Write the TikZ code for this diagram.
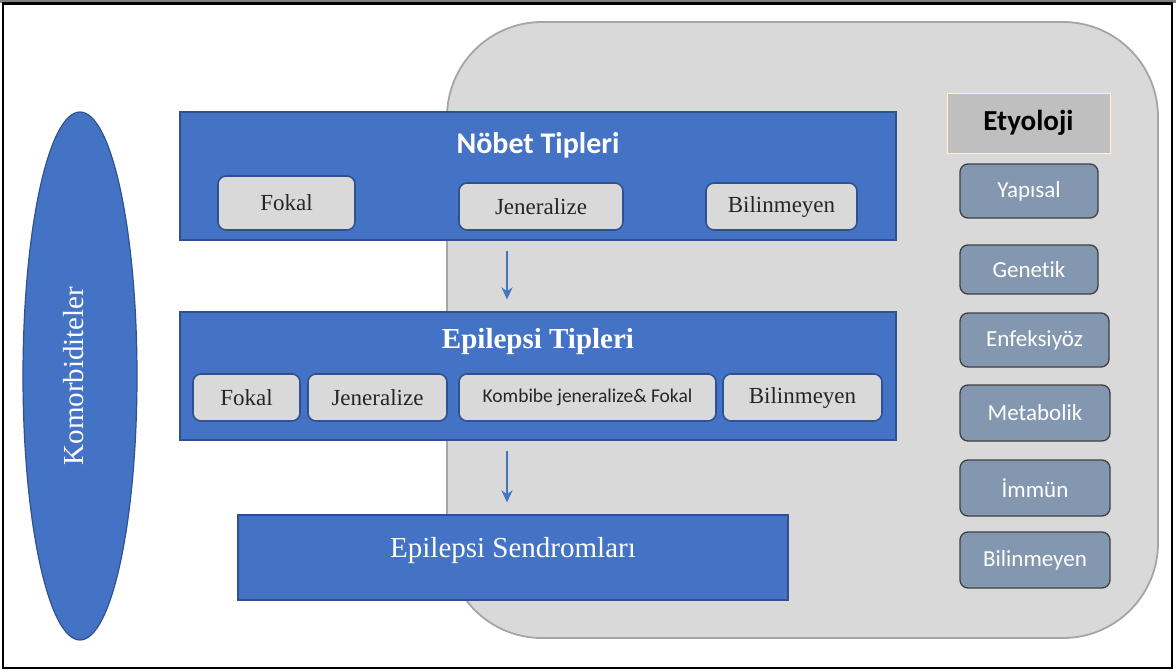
\documentclass[tikz,border=0pt]{standalone}
\usepackage{fontspec}
\setmainfont{Liberation Serif}
\newfontfamily\calibri[Ligatures=NoCommon]{Carlito}
\usepackage{tikz}
\usetikzlibrary{shapes.geometric, arrows.meta, positioning, calc}
\definecolor{EpiBlue}{HTML}{4472C4}
\definecolor{EpiNavy}{HTML}{2F528F}
\definecolor{EpiPanel}{HTML}{D9D9D9}
\definecolor{EpiPanelEdge}{HTML}{A5A5A5}
\definecolor{EpiHead}{HTML}{BFBFBF}
\definecolor{EpiHeadEdge}{HTML}{FFF2CC}
\definecolor{EpiSlate}{HTML}{8497B0}
\definecolor{EpiDark}{HTML}{404040}

\begin{document}
\begin{tikzpicture}[
  x=1pt, y=-1pt,
  panel/.style={draw=EpiPanelEdge, fill=EpiPanel, line width=1.8pt, rounded corners=95pt},
  block/.style={draw=EpiNavy, fill=EpiBlue, line width=1.2pt, inner sep=0pt},
  sub/.style={draw=EpiNavy, fill=EpiPanel, line width=1.6pt, rounded corners=8pt,
              inner sep=0pt, text=black!85, font=\fontsize{23}{26}\selectfont},
  ety/.style={draw=EpiDark, fill=EpiSlate, line width=1.3pt, rounded corners=8pt,
              inner sep=0pt, text=white, font=\calibri\fontsize{23}{26}\selectfont},
  arr/.style={-{Stealth[length=12pt, width=11pt]}, line width=2.6pt, color=EpiBlue},
  lbl/.style={text=white, inner sep=0pt},
]
\useasboundingbox (0,0) rectangle (1176,672);
%% Frame
\fill[black!50] (0,0) rectangle (1176,3);
\draw[line width=2.5pt] (3,3.5) rectangle (1172,668);
%% Etiology panel
\node[panel, minimum width=711pt, minimum height=616pt] (etypanel) at (802.5,330) {};
%% Comorbidities
\node[ellipse, draw=EpiNavy, fill=EpiBlue, line width=1.2pt, minimum width=114pt,
      minimum height=528pt, inner sep=0pt] (komor) at (80,376) {};
\node[lbl, rotate=90, font=\fontsize{29}{32}\selectfont] at ([xshift=-6pt]komor.center) {Komorbiditeler};
%% Seizure types
\node[block, minimum width=716pt, minimum height=128pt] (nobet) at (538,176) {};
\node[lbl, font=\calibri\bfseries\fontsize{30}{34}\selectfont] at ([yshift=-34pt]nobet.north) {Nöbet Tipleri};
\node[sub, minimum width=137pt, minimum height=54pt] (nfokal) at (286.5,203) {Fokal};
\node[sub, minimum width=164pt, minimum height=47pt] (njen) at (541,206.5) {Jeneralize};
\node[sub, minimum width=151pt, minimum height=47pt] (nbil) at (781.5,206.5) {Bilinmeyen};
%% Epilepsy types
\node[block, minimum width=716pt, minimum height=128pt] (epi) at (538,376) {};
\node[lbl, font=\bfseries\fontsize{29}{32}\selectfont] at ([yshift=-30pt]epi.north) {Epilepsi Tipleri};
\node[sub, minimum width=107pt, minimum height=47pt] (efokal) at (246.5,397.5) {Fokal};
\node[sub, minimum width=139pt, minimum height=47pt] (ejen) at (377.5,397.5) {Jeneralize};
\node[sub, minimum width=257pt, minimum height=47pt,
      font=\calibri\fontsize{19.5}{22}\selectfont] (ekomb) at (587.5,397.5) {Kombibe jeneralize\& Fokal};
\node[sub, minimum width=159pt, minimum height=47pt] (ebil) at (802.5,397.5) {Bilinmeyen};
%% Syndromes
\node[block, minimum width=550pt, minimum height=85pt] (send) at (513,557.5) {};
\node[lbl, font=\fontsize{29}{32}\selectfont] at ([yshift=7pt]send.center) {Epilepsi Sendromları};
%% Arrows
\coordinate (a1) at ([xshift=-31pt,yshift=-10pt]nobet.south);
\draw[arr] (a1) -- ([yshift=12pt]epi.north -| a1);
\coordinate (a2) at ([xshift=-31pt,yshift=-10pt]epi.south);
\draw[arr] (a2) -- ([yshift=12pt]send.north -| a2);
%% Etiology
\node[draw=EpiHeadEdge, fill=EpiHead, line width=0.8pt, minimum width=163pt, minimum height=60pt,
      inner sep=0pt, font=\calibri\bfseries\fontsize{29}{32}\selectfont] (etyhead) at (1028.5,123) {Etyoloji};
\node[ety, minimum width=138pt, minimum height=54pt] (yapi) at (1029,191) {Yapısal};
\node[ety, minimum width=138pt, minimum height=49pt] (gene) at (1029,269.5) {Genetik};
\node[ety, minimum width=149pt, minimum height=54pt] (enfe) at (1034.5,340) {Enfeksiyöz};
\node[ety, minimum width=150pt, minimum height=56pt] (meta) at (1035,413) {Metabolik};
\node[ety, minimum width=150pt, minimum height=56pt] (immu) at (1035,488) {İmmün};
\node[ety, minimum width=150pt, minimum height=56pt] (ebil2) at (1035,560) {Bilinmeyen};
\end{tikzpicture}
\end{document}
